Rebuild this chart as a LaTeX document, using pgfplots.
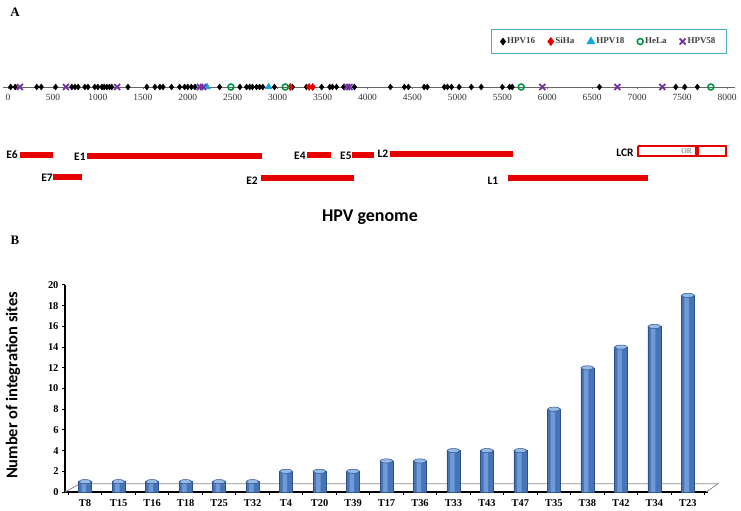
\documentclass[border=0pt]{standalone}
\usepackage{pgfplots}
\pgfplotsset{compat=1.18}
\usepackage{fontspec}
\setmainfont{Liberation Serif}
\newfontfamily\calfont{Carlito}

\definecolor{legframe}{RGB}{75,172,198}
\definecolor{hpvred}{RGB}{230,0,0}
\definecolor{hpvcyan}{RGB}{20,165,225}
\definecolor{hpvgreen}{RGB}{0,150,70}
\definecolor{hpvpurple}{RGB}{112,48,160}
\definecolor{barbase}{RGB}{70,116,182}
\definecolor{barlight}{RGB}{110,155,215}
\definecolor{baredge}{RGB}{45,80,140}
\definecolor{bartop}{RGB}{150,185,230}

\pgfplotstableread{
x  n
0  1
1  1
2  1
3  1
4  1
5  1
6  2
7  2
8  2
9  3
10 3
11 4
12 4
13 4
14 8
15 12
16 14
17 16
18 19
}\sites

\begin{document}
\begin{tikzpicture}
\useasboundingbox (0,0) rectangle (741bp,511bp);

% panel A: integration sites along the genome
\begin{axis}[
  at={(2.6bp,314bp)}, anchor=south west,
  scale only axis, width=732.5bp, height=117bp,
  xmin=-60, xmax=8090, ymin=-110, ymax=7,
  axis x line=middle, axis y line=none,
  axis line style={-, black!60, line width=0.6pt},
  xtick={0,500,...,8000},
  scaled x ticks=false,
  /pgf/number format/1000 sep={},
  /pgf/number format/assume math mode=true,
  xticklabel style={font=\fontsize{9.5}{10}\selectfont, text=black!80, yshift=-1bp},
  tick align=outside, major tick length=2.5bp,
  tick style={black!60, line width=0.5pt},
  clip=false,
  legend columns=5,
  legend style={at={(0.989,1)}, anchor=south east, yshift=26bp,
    draw=legframe, line width=1.2bp,
    font=\fontsize{9}{10}\selectfont\bfseries, text=black!75,
    inner xsep=9bp, inner ysep=6bp,
    /tikz/every even column/.append style={column sep=11bp}},
  legend image code/.code={\draw[#1] plot coordinates {(0bp,0bp)};},
]
\addplot[only marks, mark=diamond*, mark size=3bp, black] coordinates {
  (30,0) (80,0) (320,0) (370,0) (530,0) (710,0) (745,0) (780,0) (855,0) (890,0)
  (965,0) (1000,0) (1045,0) (1070,0) (1100,0) (1130,0) (1155,0) (1335,0) (1545,0)
  (1635,0) (1690,0) (1725,0) (1820,0) (1910,0) (1965,0) (2000,0) (2040,0) (2080,0)
  (2355,0) (2580,0) (2655,0) (2690,0) (2720,0) (2765,0) (2800,0) (2835,0) (2965,0)
  (3165,0) (3320,0) (3490,0) (3580,0) (3610,0) (3655,0) (3735,0) (3855,0) (4255,0)
  (4410,0) (4455,0) (4630,0) (4665,0) (4855,0) (4890,0) (4935,0) (5020,0) (5155,0)
  (5265,0) (5500,0) (5580,0) (5610,0) (6580,0) (7430,0) (7530,0) (7670,0)};
\addlegendentry{HPV16}
\addplot[only marks, mark=diamond*, mark size=3.6bp, hpvred] coordinates {
  (3140,0) (3350,0) (3390,0)};
\addlegendentry{SiHa}
\addplot[only marks, mark=triangle*, mark size=4bp, hpvcyan] coordinates {
  (2215,0) (2900,0)};
\addlegendentry{HPV18}
\addplot[only marks, mark=o, mark size=3bp, hpvgreen, line width=1.6pt] coordinates {
  (2480,0) (3085,0) (5710,0) (7820,0)};
\addlegendentry{HeLa}
\addplot[only marks, mark=x, mark size=4.2bp, hpvpurple, line width=1.8pt] coordinates {
  (133,0) (645,0) (1215,0) (2135,0) (2170,0) (3770,0) (3800,0) (5945,0) (6780,0) (7280,0)};
\addlegendentry{HPV58}

% open reading frames
\addplot[forget plot, hpvred, line width=6bp] coordinates {(135,-68) (500,-68)};
\addplot[forget plot, hpvred, line width=6bp] coordinates {(500,-90) (825,-90)};
\addplot[forget plot, hpvred, line width=6bp] coordinates {(880,-69) (2825,-69)};
\addplot[forget plot, hpvred, line width=6bp] coordinates {(2815,-91) (3850,-91)};
\addplot[forget plot, hpvred, line width=6bp] coordinates {(3325,-68) (3590,-68)};
\addplot[forget plot, hpvred, line width=6bp] coordinates {(3830,-68) (4070,-68)};
\addplot[forget plot, hpvred, line width=6bp] coordinates {(4250,-67) (5620,-67)};
\addplot[forget plot, hpvred, line width=6bp] coordinates {(5565,-91) (7120,-91)};
\addplot[forget plot, hpvred, line width=1.5bp] coordinates {
  (7010,-59) (7990,-59) (7990,-69) (7010,-69) (7010,-59)};
\addplot[forget plot, hpvred, line width=8bp] coordinates {(7640,-64) (7690,-64)};

\begin{scope}[font=\calfont\bfseries\fontsize{11.5}{12}\selectfont]
\node at (axis cs:44,-68) {E6};
\node at (axis cs:800,-70) {E1};
\node at (axis cs:434,-91) {E7};
\node at (axis cs:2715,-94) {E2};
\node at (axis cs:3248,-69) {E4};
\node at (axis cs:3760,-69) {E5};
\node at (axis cs:4171,-67) {L2};
\node at (axis cs:5395,-94) {L1};
\node at (axis cs:6864,-66) {LCR};
\end{scope}
\node[font=\fontsize{7.5}{8}\selectfont, text=black!60] at (axis cs:7550,-64) {OR};
\end{axis}

\node[font=\calfont\bfseries\fontsize{18}{20}\selectfont] at (370bp,294bp) {HPV genome};
\node[font=\bfseries\fontsize{13}{14}\selectfont] at (15bp,499bp) {A};
\node[font=\bfseries\fontsize{13}{14}\selectfont] at (15bp,271bp) {B};

% panel B: number of integration sites per tumour
\begin{axis}[
  at={(65bp,19bp)}, anchor=south west,
  scale only axis, width=643bp, height=207bp,
  xmin=-0.6, xmax=18.6, ymin=0, ymax=20,
  axis lines*=left,
  axis line style={black, line width=1.6bp},
  xtick={0,...,18},
  xticklabels={T8,T15,T16,T18,T25,T32,T4,T20,T39,T17,T36,T33,T43,T47,T35,T38,T42,T34,T23},
  minor xtick={-0.5,0.5,...,18.5},
  major x tick style={draw=none},
  ytick={0,2,...,20},
  tick align=outside, major tick length=3bp, minor tick length=3bp,
  tick style={black, line width=1bp},
  /pgf/number format/assume math mode=true,
  ticklabel style={font=\bfseries\fontsize{10.5}{11}\selectfont},
  xticklabel style={yshift=-1bp},
  ylabel={Number of integration sites},
  ylabel style={font=\calfont\bfseries\fontsize{16.5}{18}\selectfont,
    at={(axis description cs:-0.081,0.515)}, anchor=center},
  clip=false,
]
\draw[black!45, line width=0.8bp] (axis cs:-0.6,0) -- (axis cs:-0.15,0.8)
  -- (axis cs:18.9,0.8) -- (axis cs:18.55,0);
% cylinder body, a lighter highlight stripe, and the top cap
\addplot[ybar, bar width=13bp, bar shift=0pt, draw=baredge, line width=0.4bp,
  fill=barbase] table[x=x, y=n] {\sites};
\addplot[ybar, bar width=4.5bp, bar shift=-1.2bp, draw=none,
  fill=barlight] table[x=x, y=n] {\sites};
\addplot[only marks, mark=*, mark size=6.5bp,
  mark options={yscale=0.32, fill=bartop, draw=baredge, line width=0.5bp}]
  table[x=x, y=n] {\sites};
\end{axis}
\end{tikzpicture}
\end{document}
